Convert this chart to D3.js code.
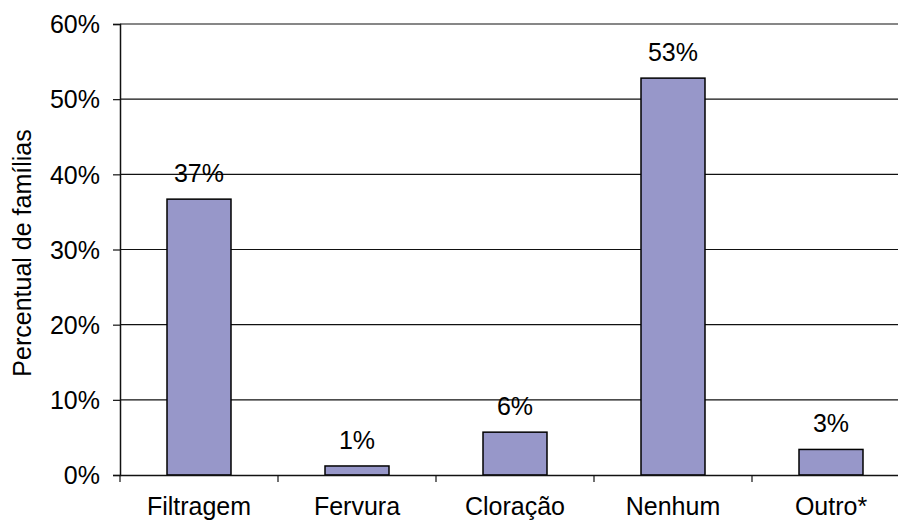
<!DOCTYPE html>
<html lang="pt">
<head>
<meta charset="utf-8">
<title>Tratamento da água</title>
<script src="https://d3js.org/d3.v7.min.js"></script>
<style>
  body { margin: 0; background: #fff; }
  svg text { font-family: "Liberation Sans", Arial, sans-serif; fill: #000; }
</style>
</head>
<body>
<svg width="898" height="520"></svg>
<script>
const categories = ["Filtragem", "Fervura", "Cloração", "Nenhum", "Outro*"];
const values = [0.367, 0.012, 0.057, 0.528, 0.034];
const labels = ["37%", "1%", "6%", "53%", "3%"];
const yTicks = [0, 0.1, 0.2, 0.3, 0.4, 0.5, 0.6];

const svg = d3.select("svg");
const mLeft = 120, mRight = 910, mTop = 24, mBottom = 475;
const fs = 25;

const x = d3.scaleBand().domain(categories).range([mLeft, mRight]).paddingInner(0.595).paddingOuter(0.2975);
const band = d3.scaleBand().domain(categories).range([mLeft, mRight]);
const y = d3.scaleLinear().domain([0, 0.6]).range([mBottom, mTop]);

// gridlines
svg.append("g").selectAll("line")
  .data(yTicks.slice(1))
  .enter().append("line")
  .attr("x1", mLeft).attr("x2", 898)
  .attr("y1", d => y(d)).attr("y2", d => y(d))
  .attr("stroke", "#111").attr("stroke-width", 1.2);

// y axis
const yAxis = svg.append("g")
  .attr("transform", `translate(${mLeft},0)`)
  .call(d3.axisLeft(y).tickValues(yTicks).tickFormat(d3.format(".0%")).tickSize(7).tickPadding(13));
yAxis.select(".domain").attr("stroke", "#111").attr("stroke-width", 1.5);
yAxis.selectAll(".tick line").attr("stroke", "#111").attr("stroke-width", 1.2);
yAxis.selectAll(".tick text").attr("font-size", fs).attr("dy", "0.35em");

// bars
svg.append("g").selectAll("rect")
  .data(categories)
  .enter().append("rect")
  .attr("x", d => x(d))
  .attr("width", x.bandwidth())
  .attr("y", (d, i) => y(values[i]))
  .attr("height", (d, i) => y(0) - y(values[i]))
  .attr("fill", "#9797c9")
  .attr("stroke", "#000")
  .attr("stroke-width", 1.5);

// x axis
const xAxis = svg.append("g")
  .attr("transform", `translate(0,${mBottom})`)
  .call(d3.axisBottom(band).tickSize(0).tickPadding(22));
xAxis.select(".domain").attr("stroke", "#111").attr("stroke-width", 1.5);
xAxis.selectAll(".tick text").attr("font-size", fs);
svg.append("g").selectAll("line")
  .data(categories)
  .enter().append("line")
  .attr("x1", d => band(d)).attr("x2", d => band(d))
  .attr("y1", mBottom).attr("y2", mBottom + 7)
  .attr("stroke", "#111").attr("stroke-width", 1.2);

// value labels
svg.append("g").selectAll("text")
  .data(categories)
  .enter().append("text")
  .attr("x", d => x(d) + x.bandwidth() / 2)
  .attr("y", (d, i) => y(values[i]) - 17)
  .attr("text-anchor", "middle")
  .attr("font-size", fs)
  .text((d, i) => labels[i]);

// y title
svg.append("text")
  .attr("transform", "translate(31,253) rotate(-90)")
  .attr("text-anchor", "middle")
  .attr("font-size", fs)
  .text("Percentual de famílias");
</script>
</body>
</html>
